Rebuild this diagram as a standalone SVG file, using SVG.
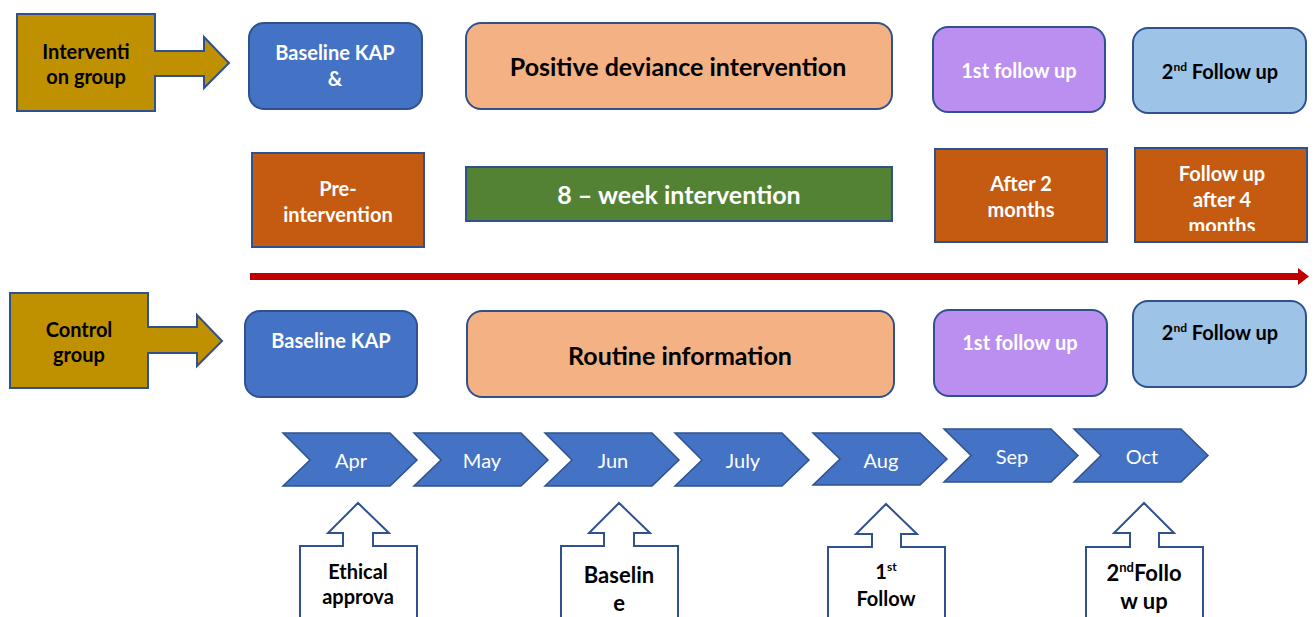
<svg xmlns="http://www.w3.org/2000/svg" width="1316" height="617" viewBox="0 0 1316 617">
<style>
.b{font-family:Lato,"Open Sans","Liberation Sans",sans-serif;font-weight:bold;text-anchor:middle}
.r{font-family:Lato,"Open Sans","Liberation Sans",sans-serif;font-weight:normal;text-anchor:middle}
.w{fill:#ffffff}
.k{fill:#000000}
.s20{font-size:20px}
.s25{font-size:25px}
.box{stroke:#2F528F;stroke-width:2}
.gold{fill:#BF9000;stroke:#2F528F;stroke-width:2}
.chev{fill:#4472C4;stroke:#2F528F;stroke-width:1.5}
.call{fill:#ffffff;stroke:#2F528F;stroke-width:2}
</style>
<defs>
<clipPath id="clipF"><rect x="1135" y="148" width="173" height="83"/></clipPath>
</defs>
<rect width="1316" height="617" fill="#ffffff"/>

<g id="connectors">
<rect x="250" y="273" width="1050" height="7" fill="#C00000"/>
<polygon points="1298,268 1309,276.5 1298,285" fill="#C00000"/>
</g>

<g id="intervention-group">
<path class="gold" d="M17,14 H155 V51 H204 V37 L229,63 L204,88 V76 H155 V111 H17 Z"/>
<text class="b k s20" x="86" y="58.5">Interventi</text>
<text class="b k s20" x="86" y="83.5">on group</text>
</g>

<g id="baseline-kap-int">
<rect class="box" x="249" y="23" width="173" height="86" rx="15" fill="#4472C4"/>
<text class="b w s20" x="335" y="60">Baseline KAP</text>
<text class="b w s20" x="335" y="86">&amp;</text>
</g>

<g id="pre-intervention">
<rect class="box" x="252" y="153" width="172" height="94" fill="#C55A11"/>
<text class="b w s20" x="338" y="196">Pre-</text>
<text class="b w s20" x="338" y="222">intervention</text>
</g>

<g id="positive-deviance">
<rect class="box" x="466" y="23" width="426" height="86" rx="15" fill="#F4B183"/>
<text class="b k s25" x="678" y="76">Positive deviance intervention</text>
</g>

<g id="eight-week">
<rect class="box" x="466" y="167" width="426" height="54" fill="#548235"/>
<text class="b w s25" x="679" y="204">8 – week intervention</text>
</g>

<g id="first-follow-int">
<rect class="box" x="933" y="27" width="172" height="85" rx="15" fill="#BB8FEF"/>
<text class="b w s20" x="1019" y="78">1st follow up</text>
</g>

<g id="second-follow-int">
<rect class="box" x="1133" y="28" width="173" height="85" rx="15" fill="#9DC3E6"/>
<text class="b k s20" x="1220" y="79">2<tspan font-size="12" dy="-8">nd</tspan><tspan dy="8"> Follow up</tspan></text>
</g>

<g id="after-2-months">
<rect class="box" x="935" y="149" width="172" height="93" fill="#C55A11"/>
<text class="b w s20" x="1021" y="191">After 2</text>
<text class="b w s20" x="1021" y="217">months</text>
</g>

<g id="after-4-months">
<rect class="box" x="1135" y="148" width="172" height="94" fill="#C55A11"/>
<g clip-path="url(#clipF)">
<text class="b w s20" x="1222" y="181">Follow up</text>
<text class="b w s20" x="1222" y="207">after 4</text>
<text class="b w s20" x="1222" y="233">months</text>
</g>
</g>

<g id="control-group">
<path class="gold" d="M10,293 H148 V327 H197 V315 L222,341 L197,366 V353 H148 V388 H10 Z"/>
<text class="b k s20" x="79" y="336.5">Control</text>
<text class="b k s20" x="79" y="361.5">group</text>
</g>

<g id="baseline-kap-ctrl">
<rect class="box" x="245" y="311" width="172" height="86" rx="15" fill="#4472C4"/>
<text class="b w s20" x="331" y="348">Baseline KAP</text>
</g>

<g id="routine-information">
<rect class="box" x="467" y="311" width="427" height="86" rx="15" fill="#F4B183"/>
<text class="b k s25" x="680" y="365">Routine information</text>
</g>

<g id="first-follow-ctrl">
<rect class="box" x="934" y="310" width="173" height="86" rx="15" fill="#BB8FEF"/>
<text class="b w s20" x="1020" y="350">1st follow up</text>
</g>

<g id="second-follow-ctrl">
<rect class="box" x="1133" y="301" width="173" height="86" rx="15" fill="#9DC3E6"/>
<text class="b k s20" x="1220" y="340">2<tspan font-size="12" dy="-8">nd</tspan><tspan dy="8"> Follow up</tspan></text>
</g>

<g id="month-apr">
<polygon class="chev" points="283,433 390,433 417,460 390,486 283,486 310,460"/>
<text class="r w s20" x="351" y="468">Apr</text>
</g>
<g id="month-may">
<polygon class="chev" points="414,433 521,433 548,460 521,486 414,486 441,460"/>
<text class="r w s20" x="482" y="468">May</text>
</g>
<g id="month-jun">
<polygon class="chev" points="545,433 652,433 679,460 652,486 545,486 572,460"/>
<text class="r w s20" x="613" y="468">Jun</text>
</g>
<g id="month-july">
<polygon class="chev" points="675,433 782,433 809,460 782,486 675,486 702,460"/>
<text class="r w s20" x="743" y="468">July</text>
</g>
<g id="month-aug">
<polygon class="chev" points="813,433 920,433 947,459 920,485 813,485 840,459"/>
<text class="r w s20" x="881" y="468">Aug</text>
</g>
<g id="month-sep">
<polygon class="chev" points="944,429 1051,429 1078,455.5 1051,482 944,482 971,455.5"/>
<text class="r w s20" x="1012" y="464">Sep</text>
</g>
<g id="month-oct">
<polygon class="chev" points="1074,429 1181,429 1208,455.5 1181,482 1074,482 1101,455.5"/>
<text class="r w s20" x="1142" y="464">Oct</text>
</g>

<g id="ethical-approval">
<path class="call" d="M300,625 V546 H343 V533 H328 L358,503 L389,533 H373 V546 H417 V625"/>
<text class="b k s20" x="358" y="579">Ethical</text>
<text class="b k s20" x="358" y="604">approva</text>
</g>

<g id="baseline-callout">
<path class="call" d="M561,625 V546 H604 V533 H589 L619,503 L650,533 H634 V546 H678 V625"/>
<text class="b k" font-size="22" x="619" y="583">Baselin</text>
<text class="b k" font-size="22" x="619" y="611">e</text>
</g>

<g id="first-follow-callout">
<path class="call" d="M828,625 V547 H872 V534 H856 L886,504 L917,534 H901 V547 H945 V625"/>
<text class="b k s20" x="886" y="579">1<tspan font-size="12" dy="-8">st</tspan></text>
<text class="b k s20" x="886" y="606">Follow</text>
</g>

<g id="second-follow-callout">
<path class="call" d="M1086,625 V547 H1130 V533 H1114 L1144,503 L1174,533 H1159 V547 H1203 V625"/>
<text class="b k" font-size="22" x="1144" y="581">2<tspan font-size="13" dy="-9">nd</tspan><tspan dy="9">Follo</tspan></text>
<text class="b k" font-size="22" x="1144" y="609">w up</text>
</g>
</svg>
